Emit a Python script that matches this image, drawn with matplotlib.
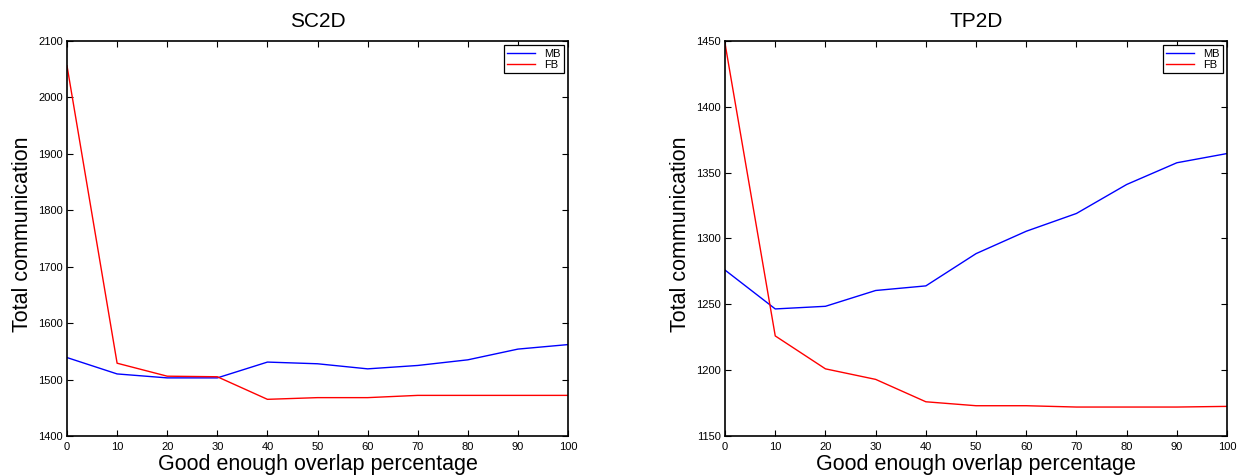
import matplotlib
matplotlib.use("Agg")
import matplotlib.pyplot as plt

plt.rcParams["font.family"] = ["Liberation Sans", "DejaVu Sans"]

overlap = [0, 10, 20, 30, 40, 50, 60, 70, 80, 90, 100]

sc2d_mb = [1539, 1510, 1503, 1503, 1531, 1528, 1519, 1525, 1535, 1554, 1562]
sc2d_fb = [2056, 1529, 1506, 1505, 1465, 1468, 1468, 1472, 1472, 1472, 1472]

tp2d_mb = [1276, 1246.5, 1248.5, 1260.5, 1264, 1288.5, 1305.5, 1319, 1341, 1357.5, 1364.5]
tp2d_fb = [1448, 1226, 1201, 1193, 1176, 1173, 1173, 1172, 1172, 1172, 1172.5]

panels = [
    ("SC2D", sc2d_mb, sc2d_fb, (1400, 2100), 100),
    ("TP2D", tp2d_mb, tp2d_fb, (1150, 1450), 50),
]
positions = [
    [0.0539, 0.084, 0.4031, 0.830],
    [0.5833, 0.084, 0.4039, 0.830],
]

fig = plt.figure(figsize=(12.43, 4.76), dpi=100)

for (title, mb, fb, ylim, ystep), pos in zip(panels, positions):
    ax = fig.add_axes(pos)
    ax.plot(overlap, mb, color="blue", lw=1.0, label="MB")
    ax.plot(overlap, fb, color="red", lw=1.0, label="FB")
    ax.set_xlim(0, 100)
    ax.set_ylim(*ylim)
    ax.set_xticks(overlap)
    ax.set_yticks(range(ylim[0], ylim[1] + 1, ystep))
    ax.tick_params(direction="in", top=True, right=True, labelsize=8, length=4, width=0.8)
    ax.tick_params(axis="x", pad=4)
    ax.tick_params(axis="y", pad=3)
    ax.set_title(title, fontsize=15, pad=10)
    ax.set_xlabel("Good enough overlap percentage", fontsize=15.5, labelpad=2)
    ax.set_ylabel("Total communication", fontsize=15.5)
    ax.yaxis.set_label_coords(-0.068, 0.51)
    for s in ax.spines.values():
        s.set_linewidth(1.2)
    leg = ax.legend(loc="upper right", fontsize=8, fancybox=False, framealpha=1,
                    edgecolor="black", handlelength=2.5, borderpad=0.3,
                    labelspacing=0.1, borderaxespad=0.4)
    leg.get_frame().set_linewidth(0.9)

fig.savefig("out.png", dpi=100)
